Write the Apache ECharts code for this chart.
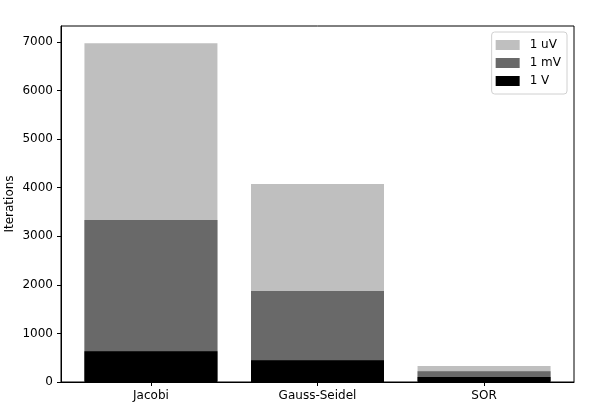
<!DOCTYPE html>
<html>
<head>
<meta charset="utf-8">
<script src="https://cdn.jsdelivr.net/npm/echarts@6/dist/echarts.min.js"></script>
<style>html,body{margin:0;padding:0;background:#fff;}#c{width:611px;height:419px;}</style>
</head>
<body>
<div id="c"></div>
<script>
const categories = ['Jacobi', 'Gauss-Seidel', 'SOR'];
const seriesNames = ['1 uV', '1 mV', '1 V'];
const uV = [6975, 4075, 330];
const mV = [3335, 1875, 220];
const V = [635, 450, 105];
const yTicks = [0, 1000, 2000, 3000, 4000, 5000, 6000, 7000];
const colors = ['#bfbfbf', '#696969', '#000000'];

const font = 'DejaVu Sans';
const chart = echarts.init(document.getElementById('c'), null, {renderer: 'canvas'});
const values = [uV, mV, V];
const idx = categories.map((_, i) => i);
chart.setOption({
  animation: false,
  textStyle: {fontFamily: font},
  grid: {left: 61, right: 37, top: 26, bottom: 37, containLabel: false, outerBoundsMode: 'none',
         show: true, borderColor: '#000', borderWidth: 1, backgroundColor: 'transparent'},
  legend: {
    orient: 'vertical', right: 44, top: 32,
    data: seriesNames,
    itemWidth: 24, itemHeight: 10, itemGap: 6,
    borderColor: '#d0d0d0', borderWidth: 1, borderRadius: 3,
    padding: [7, 6, 7, 4],
    textStyle: {fontFamily: font, fontSize: 12, color: '#000', padding: [0, 0, 0, 5]},
    icon: 'rect'
  },
  xAxis: {
    type: 'value', min: -0.54, max: 2.54,
    splitLine: {show: false},
    axisLine: {show: true, onZero: false, lineStyle: {color: '#000'}},
    axisTick: {show: true, customValues: idx, length: 4, lineStyle: {color: '#000'}},
    axisLabel: {customValues: idx, formatter: v => categories[Math.round(v)] || '', color: '#000', fontSize: 12, fontFamily: font, margin: 8}
  },
  yAxis: {
    type: 'value', min: 0, max: 7329,
    name: 'Iterations', nameLocation: 'middle', nameGap: 45, nameRotate: 90, nameMoveOverlap: false,
    nameTextStyle: {color: '#000', fontSize: 12, fontFamily: font},
    splitLine: {show: false},
    axisLine: {show: true, onZero: false, lineStyle: {color: '#000'}},
    axisTick: {show: true, customValues: yTicks, length: 4, lineStyle: {color: '#000'}},
    axisLabel: {customValues: yTicks, formatter: v => String(v), color: '#000', fontSize: 12, fontFamily: font, margin: 8}
  },
  series: seriesNames.map((name, s) => ({
    name, type: 'bar',
    barWidth: 133, barGap: '-100%',
    itemStyle: {color: colors[s]},
    data: values[s].map((v, i) => [i, v])
  }))
});
</script>
</body>
</html>
